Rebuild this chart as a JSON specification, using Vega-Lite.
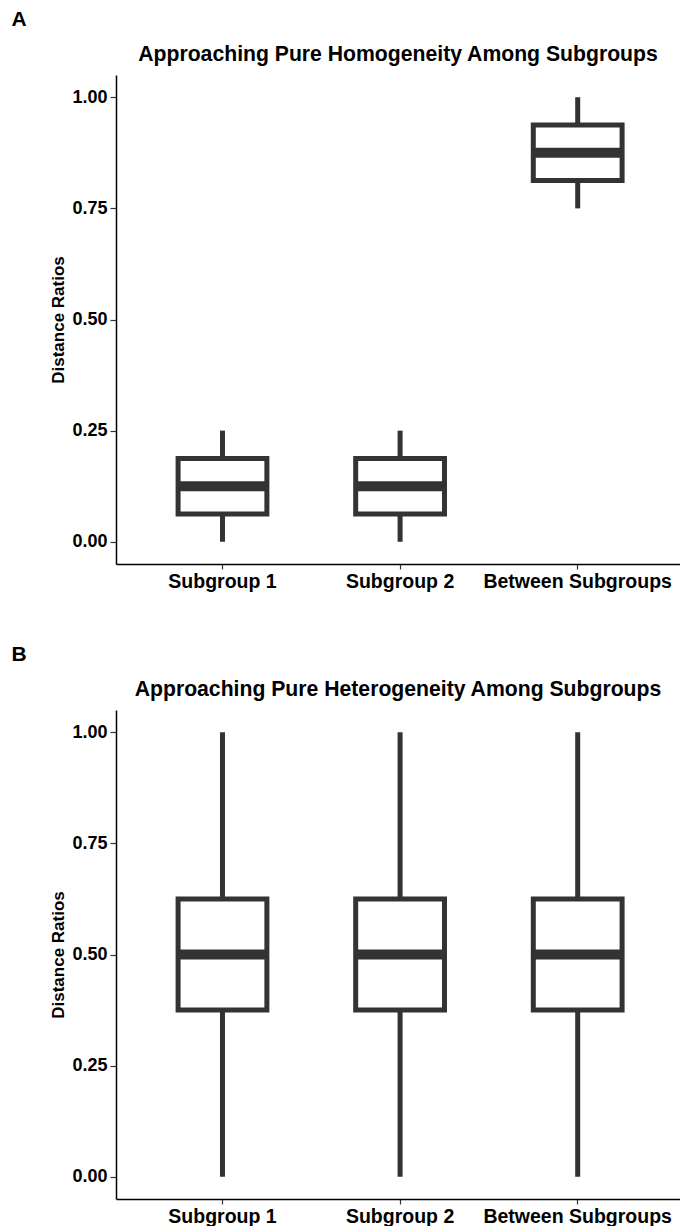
{
  "$schema": "https://vega.github.io/schema/vega-lite/v6.json",
  "padding": {"left": 11, "top": 8, "right": 0, "bottom": 0},
  "background": "white",
  "config": {
    "font": "Liberation Sans",
    "view": {"stroke": null},
    "axis": {
      "grid": false,
      "domainColor": "black",
      "domainWidth": 1.5,
      "tickColor": "#333333",
      "tickWidth": 1.2,
      "labelColor": "black",
      "labelFontSize": 18,
      "labelFontWeight": "bold",
      "labelLimit": 400,
      "titleFontSize": 17,
      "titleFontWeight": "bold",
      "titleColor": "black"
    },
    "axisY": {"tickSize": 6, "labelPadding": 3, "titlePadding": 4, "labelFontSize": 18},
    "axisX": {"tickSize": 5, "labelPadding": 3, "labelAngle": 0, "labelFontSize": 19.5, "labelLimit": 400},
    "title": {"color": "black", "fontWeight": "bold"}
  },
  "datasets": {
    "homogeneity": [
      {"group": "Subgroup 1", "min": 0, "q1": 0.0625, "median": 0.125, "q3": 0.1875, "max": 0.25},
      {"group": "Subgroup 2", "min": 0, "q1": 0.0625, "median": 0.125, "q3": 0.1875, "max": 0.25},
      {"group": "Between Subgroups", "min": 0.75, "q1": 0.8125, "median": 0.875, "q3": 0.9375, "max": 1.0}
    ],
    "heterogeneity": [
      {"group": "Subgroup 1", "min": 0, "q1": 0.375, "median": 0.5, "q3": 0.625, "max": 1.0},
      {"group": "Subgroup 2", "min": 0, "q1": 0.375, "median": 0.5, "q3": 0.625, "max": 1.0},
      {"group": "Between Subgroups", "min": 0, "q1": 0.375, "median": 0.5, "q3": 0.625, "max": 1.0}
    ]
  },
  "spacing": 52,
  "vconcat": [
    {
      "title": {"text": "A", "anchor": "start", "frame": "bounds", "dx": -38.5, "fontSize": 21, "offset": 14},
      "vconcat": [
        {
          "width": 564,
          "height": 489,
          "title": {"text": "Approaching Pure Homogeneity Among Subgroups", "fontSize": 21.2, "anchor": "middle", "frame": "group", "offset": 10},
          "data": {"name": "homogeneity"},
          "encoding": {
            "x": {
              "field": "group", "type": "nominal",
              "sort": ["Subgroup 1", "Subgroup 2", "Between Subgroups"],
              "scale": {"type": "band", "paddingInner": 0, "paddingOuter": 0.0878, "align": 0.567},
              "axis": {"title": null}
            }
          },
          "layer": [
            {
              "mark": {"type": "rule", "color": "#333333", "strokeWidth": 5},
              "encoding": {
                "y": {"field": "min", "type": "quantitative", "title": "Distance Ratios",
                      "scale": {"domain": [-0.05, 1.05], "nice": false, "zero": false},
                      "axis": {"values": [0, 0.25, 0.5, 0.75, 1], "format": ".2f"}},
                "y2": {"field": "q1"}
              }
            },
            {
              "mark": {"type": "rule", "color": "#333333", "strokeWidth": 5},
              "encoding": {
                "y": {"field": "q3", "type": "quantitative", "title": "Distance Ratios"},
                "y2": {"field": "max"}
              }
            },
            {
              "mark": {"type": "bar", "fill": "white", "stroke": "#333333", "strokeWidth": 5, "width": {"band": 0.5}},
              "encoding": {
                "y": {"field": "q1", "type": "quantitative", "title": "Distance Ratios"},
                "y2": {"field": "q3"}
              }
            },
            {
              "mark": {"type": "tick", "color": "#333333", "thickness": 10, "size": 88, "opacity": 1},
              "encoding": {
                "y": {"field": "median", "type": "quantitative", "title": "Distance Ratios"}
              }
            }
          ]
        }
      ]
    },
    {
      "title": {"text": "B", "anchor": "start", "frame": "bounds", "dx": -38.5, "fontSize": 21, "offset": 14},
      "vconcat": [
        {
          "width": 564,
          "height": 489,
          "title": {"text": "Approaching Pure Heterogeneity Among Subgroups", "fontSize": 21.2, "anchor": "middle", "frame": "group", "offset": 10},
          "data": {"name": "heterogeneity"},
          "encoding": {
            "x": {
              "field": "group", "type": "nominal",
              "sort": ["Subgroup 1", "Subgroup 2", "Between Subgroups"],
              "scale": {"type": "band", "paddingInner": 0, "paddingOuter": 0.0878, "align": 0.567},
              "axis": {"title": null}
            }
          },
          "layer": [
            {
              "mark": {"type": "rule", "color": "#333333", "strokeWidth": 5},
              "encoding": {
                "y": {"field": "min", "type": "quantitative", "title": "Distance Ratios",
                      "scale": {"domain": [-0.05, 1.05], "nice": false, "zero": false},
                      "axis": {"values": [0, 0.25, 0.5, 0.75, 1], "format": ".2f"}},
                "y2": {"field": "q1"}
              }
            },
            {
              "mark": {"type": "rule", "color": "#333333", "strokeWidth": 5},
              "encoding": {
                "y": {"field": "q3", "type": "quantitative", "title": "Distance Ratios"},
                "y2": {"field": "max"}
              }
            },
            {
              "mark": {"type": "bar", "fill": "white", "stroke": "#333333", "strokeWidth": 5, "width": {"band": 0.5}},
              "encoding": {
                "y": {"field": "q1", "type": "quantitative", "title": "Distance Ratios"},
                "y2": {"field": "q3"}
              }
            },
            {
              "mark": {"type": "tick", "color": "#333333", "thickness": 10, "size": 88, "opacity": 1},
              "encoding": {
                "y": {"field": "median", "type": "quantitative", "title": "Distance Ratios"}
              }
            }
          ]
        }
      ]
    }
  ]
}
